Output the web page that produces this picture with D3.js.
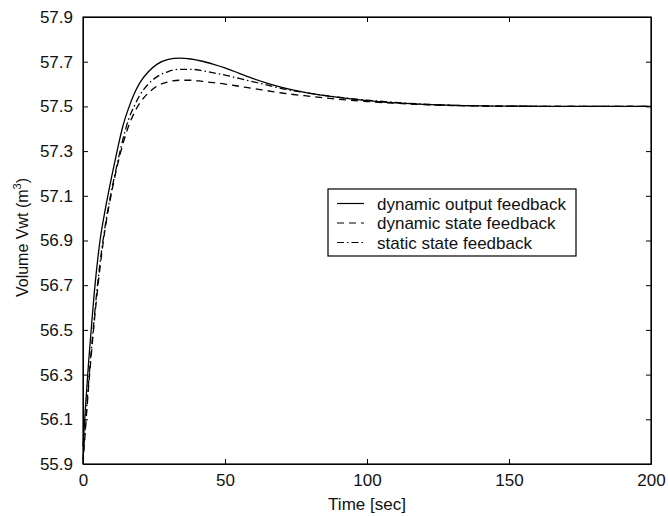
<!DOCTYPE html>
<html>
<head>
<meta charset="utf-8">
<script src="https://cdn.jsdelivr.net/npm/d3@7"></script>
<style>
  body { margin: 0; background: #fff; }
  svg text { font-family: "Liberation Sans", Arial, sans-serif; fill: #111; }
</style>
</head>
<body>
<div id="chart"></div>
<script>
const times = [0, 1, 2, 3, 4, 6, 8, 10, 12, 14, 16, 18, 20, 23, 26, 30, 34, 38, 42, 46, 50, 55, 60, 65, 70, 80, 90, 100, 110, 120, 130, 140, 150, 175, 200];

const dynOutput = [55.98, 56.18, 56.36, 56.52, 56.67, 56.9, 57.05, 57.18, 57.3, 57.41, 57.49, 57.555, 57.605, 57.655, 57.688, 57.71, 57.716, 57.712, 57.702, 57.688, 57.672, 57.648, 57.624, 57.603, 57.585, 57.558, 57.54, 57.526, 57.516, 57.509, 57.505, 57.502, 57.501, 57.5, 57.5];
const staticState = [55.92, 56.1, 56.27, 56.42, 56.56, 56.8, 56.98, 57.12, 57.24, 57.35, 57.44, 57.5, 57.55, 57.6, 57.632, 57.656, 57.666, 57.666, 57.66, 57.65, 57.64, 57.625, 57.61, 57.595, 57.58, 57.558, 57.541, 57.528, 57.518, 57.51, 57.505, 57.502, 57.501, 57.5, 57.5];
const dynState = [55.9, 56.08, 56.25, 56.4, 56.54, 56.78, 56.97, 57.11, 57.23, 57.33, 57.41, 57.47, 57.515, 57.56, 57.59, 57.61, 57.617, 57.617, 57.612, 57.606, 57.6, 57.59, 57.58, 57.57, 57.56, 57.545, 57.532, 57.522, 57.514, 57.508, 57.504, 57.502, 57.501, 57.5, 57.5];

const xTicks = [0, 50, 100, 150, 200];
const yTicks = [55.9, 56.1, 56.3, 56.5, 56.7, 56.9, 57.1, 57.3, 57.5, 57.7, 57.9];

const series = [
  { name: "dynamic output feedback", values: dynOutput, dash: null },
  { name: "dynamic state feedback", values: dynState, dash: "7,5" },
  { name: "static state feedback", values: staticState, dash: "7,3,1.5,3" }
];

const W = 668, H = 516;
const margin = { top: 17, right: 17, bottom: 52, left: 83 };
const width = W - margin.left - margin.right,
      height = H - margin.top - margin.bottom;

const svg = d3.select("#chart").append("svg")
    .attr("width", W)
    .attr("height", H)
  .append("g")
    .attr("transform", `translate(${margin.left},${margin.top})`);

const x = d3.scaleLinear().domain([0, 200]).range([0, width]);
const y = d3.scaleLinear().domain([55.9, 57.9]).range([height, 0]);

// axes, ticks pointing inward like MATLAB
const tickLen = 5;
svg.append("g")
    .attr("transform", `translate(0,${height})`)
    .call(d3.axisBottom(x).tickValues(xTicks).tickSizeInner(-tickLen).tickSizeOuter(0).tickPadding(10).tickFormat(d3.format("d")))
    .call(g => g.selectAll("text").attr("font-size", 17));
svg.append("g")
    .call(d3.axisTop(x).tickValues(xTicks).tickSizeInner(-tickLen).tickSizeOuter(0).tickFormat(""));
svg.append("g")
    .call(d3.axisLeft(y).tickValues(yTicks).tickSizeInner(-tickLen).tickSizeOuter(0).tickPadding(10).tickFormat(d3.format(".1f")))
    .call(g => g.selectAll("text").attr("font-size", 17));
svg.append("g")
    .attr("transform", `translate(${width},0)`)
    .call(d3.axisRight(y).tickValues(yTicks).tickSizeInner(-tickLen).tickSizeOuter(0).tickFormat(""));
svg.selectAll(".domain").attr("stroke", "#000");
svg.selectAll(".tick line").attr("stroke", "#000");

svg.append("rect")
    .attr("width", width).attr("height", height)
    .attr("fill", "none").attr("stroke", "#000").attr("stroke-width", 1.2);

const line = d3.line()
    .x((d, i) => x(times[i]))
    .y(d => y(d))
    .curve(d3.curveMonotoneX);

svg.selectAll(".series")
  .data(series)
  .enter().append("path")
    .attr("class", "series")
    .attr("d", d => line(d.values))
    .attr("fill", "none")
    .attr("stroke", "#000")
    .attr("stroke-width", 1.3)
    .attr("stroke-dasharray", d => d.dash);

// labels
svg.append("text")
    .attr("x", width / 2).attr("y", height + 46)
    .attr("text-anchor", "middle").attr("font-size", 17)
    .text("Time [sec]");

const yl = svg.append("text")
    .attr("transform", `translate(-55,${height / 2 - 3}) rotate(-90)`)
    .attr("text-anchor", "middle").attr("font-size", 16);
yl.append("tspan").text("Volume Vwt (m");
yl.append("tspan").attr("font-size", 11).attr("dy", -7).text("3");
yl.append("tspan").attr("dy", 7).text(")");

// legend
const lg = svg.append("g").attr("transform", `translate(${328 - margin.left},${189 - margin.top})`);
lg.append("rect")
    .attr("width", 248).attr("height", 67)
    .attr("fill", "#fff").attr("stroke", "#000").attr("stroke-width", 1.2);
series.forEach((s, i) => {
  const yy = 14.5 + i * 19.5;
  lg.append("line")
      .attr("x1", 9).attr("x2", 36).attr("y1", yy).attr("y2", yy)
      .attr("stroke", "#000").attr("stroke-width", 1.2)
      .attr("stroke-dasharray", s.dash);
  lg.append("text")
      .attr("x", 49).attr("y", yy + 6)
      .attr("font-size", 17)
      .text(s.name);
});
</script>
</body>
</html>
